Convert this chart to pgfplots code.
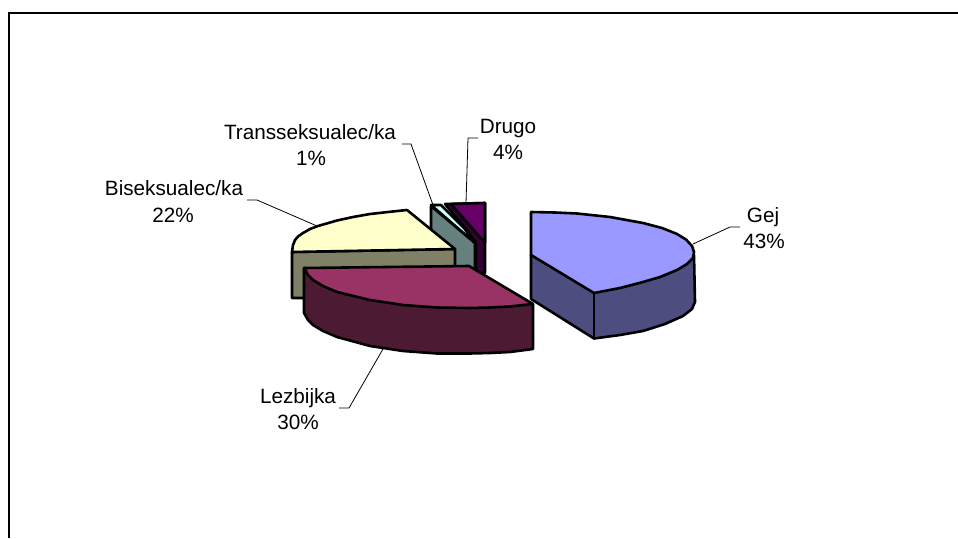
\documentclass[border=0pt]{standalone}
\usepackage{pgfplots}
\pgfplotsset{compat=1.18}
\usepackage{fontspec}
\setmainfont{Liberation Sans}
\definecolor{gejT}{HTML}{9999FF}\definecolor{gejS}{HTML}{4D4D80}
\definecolor{lezT}{HTML}{993366}\definecolor{lezS}{HTML}{4D1A33}
\definecolor{bisT}{HTML}{FFFFCC}\definecolor{bisS}{HTML}{808066}
\definecolor{traT}{HTML}{CCFFFF}\definecolor{traS}{HTML}{668080}
\definecolor{druT}{HTML}{660066}\definecolor{druS}{HTML}{330033}
\tikzset{pie/.style={draw=black,line width=2.6pt,line join=round,line cap=round},lead/.style={draw=black,line width=0.8pt},
 lab/.style={font=\fontsize{20.7}{26}\selectfont,inner sep=0pt,anchor=base}}
\begin{document}
\begin{tikzpicture}
\path[use as bounding box] (0,0) rectangle (958pt,538pt);
\begin{axis}[at={(0,0)},anchor=south west,scale only axis,width=958pt,height=538pt,
 xmin=0,xmax=958,ymin=0,ymax=538,y dir=reverse,hide axis,clip=true]
% frame
\addplot[draw=black,line width=1.1pt] coordinates {(9,538) (9,13) (958,13)};
% leaders
\addplot[lead] coordinates {(693,244) (730,227) (740,227)};
\addplot[lead] coordinates {(383,349) (349,408) (339,408)};
\addplot[lead] coordinates {(317,226) (257,200) (247,200)};
\addplot[lead] coordinates {(433,205) (411,144) (402,144)};
\addplot[lead] coordinates {(466,203) (468,138) (478,138)};
% Drugo
\addplot[pie,fill=druS] coordinates {(445,204) (485,203) (485,273) (476,273) (476,243) (465,228) (445,204)};
\addplot[pie,fill=druT] coordinates {(451,204) (485,203) (485,243) (451,204)};
% Transseksualec
\addplot[pie,fill=traS] coordinates {(431,206) (475,243) (475,272) (440,272) (431,228) (431,206)};
\addplot[pie,fill=traT] coordinates {(431,205) (441,205) (464,228) (475,243) (431,205)};
% Biseksualec
\addplot[pie,fill=bisS] coordinates {(292,252) (455,249) (455,265) (455,298) (292,298) (292,252)};
\addplot[pie,fill=bisT] coordinates {(407,210) (388,212) (370,214) (353,217) (337,220.5) (318,226) (310,229) (303,233) (298,236.5) (295,240) (293,245) (292,252) (455,249) (407,210)};
% Lezbijka
\addplot[pie,fill=lezS] coordinates {(304,268) (533,304) (533,349) (510,352) (490,353) (470,353.5) (437,353.5) (403,351) (370,346) (337,337) (323,331) (313,325) (308,320) (304,313) (304,268)};
\addplot[pie,fill=lezT] coordinates {(304,268) (469,266) (533,304) (510,306.5) (490,307.5) (470,308) (437,307.5) (403,305) (370,300) (337,292) (323,286) (313,280) (308,275) (304,268)};
% Gej
\addplot[pie,fill=gejS] coordinates {(531,255) (694,255) (695,302) (692,309) (683,316) (665,324) (643,331) (620,335) (594,338.5) (531,299) (531,255)};
\addplot[pie,fill=gejT] coordinates {(531,212) (555,212.5) (577,213.5) (610,217) (643,223) (662,228) (677,234) (686,239.5) (692,246) (694,252) (693,258) (687,264) (677,270) (660,277) (643,282) (620,288) (594,293) (531,255) (531,212)};
\addplot[pie] coordinates {(594,293) (594,338)};
\node[lab] at (axis cs:763,222) {Gej};
\node[lab] at (axis cs:764,248) {43\%};
\node[lab] at (axis cs:298,403) {Lezbijka};
\node[lab] at (axis cs:298,429) {30\%};
\node[lab] at (axis cs:174,195) {Biseksualec/ka};
\node[lab] at (axis cs:173,222) {22\%};
\node[lab] at (axis cs:310,139) {Transseksualec/ka};
\node[lab] at (axis cs:311,165) {1\%};
\node[lab] at (axis cs:508,133) {Drugo};
\node[lab] at (axis cs:508,159) {4\%};
\end{axis}
\end{tikzpicture}
\end{document}
